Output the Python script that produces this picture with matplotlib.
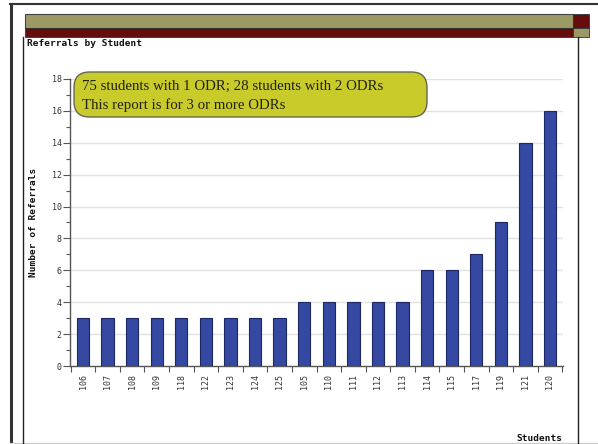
import matplotlib
matplotlib.use("Agg")
import matplotlib.pyplot as plt
from matplotlib.patches import Rectangle, FancyBboxPatch
from matplotlib.lines import Line2D

students = ["106", "107", "108", "109", "118", "122", "123", "124", "125", "105",
            "110", "111", "112", "113", "114", "115", "117", "119", "121", "120"]
referrals = [3, 3, 3, 3, 3, 3, 3, 3, 3, 4, 4, 4, 4, 4, 6, 6, 7, 9, 14, 16]
y_ticks = [0, 2, 4, 6, 8, 10, 12, 14, 16, 18]

W, H = 598, 444
fig = plt.figure(figsize=(W / 100, H / 100), dpi=100)
fig.patch.set_facecolor("white")


def fx(x):
    return x / W


def fy(y):
    return 1 - y / H


def rect(x0, y0, x1, y1, fc, ec="none", lw=0, z=1):
    fig.patches.append(Rectangle((fx(x0), fy(y1)), fx(x1) - fx(x0), fy(y0) - fy(y1),
                                 transform=fig.transFigure, facecolor=fc, edgecolor=ec,
                                 linewidth=lw, zorder=z))


def line(xs, ys, c, lw, z=3):
    fig.lines.append(Line2D([fx(x) for x in xs], [fy(y) for y in ys],
                            transform=fig.transFigure, color=c, linewidth=lw, zorder=z))


# outer frame
line([11, 11], [4, 444], "#333333", 2.2)
line([10, 598], [4, 4], "#333333", 1.5)
line([10, 598], [443, 443], "#cccccc", 1.0)
# header bars
olive = "#9b9a66"
maroon = "#650d0d"
rect(25, 14, 573, 28, olive, "#444444", 0.8)
rect(25, 28, 573, 37, maroon, "#333333", 0.6)
rect(573, 14, 589, 28, maroon, "#333333", 0.6)
rect(573, 28, 589, 37, olive, "#333333", 0.6)
# inner panel borders
line([23, 23], [37, 444], "#222222", 1.0)
line([578, 578], [37, 444], "#222222", 1.0)

fig.text(fx(27), fy(44), "Referrals by Student", fontfamily="DejaVu Sans Mono",
         fontweight="bold", fontsize=6.8, va="center", ha="left", color="#111111")

ax = fig.add_axes([fx(70), fy(366), fx(563) - fx(70), fy(79) - fy(366)])
x = list(range(len(students)))
ax.bar(x, referrals, width=0.5, color="#3548a2", edgecolor="#1c2766", linewidth=0.8, zorder=3)
ax.set_xlim(-0.53, len(students) - 0.47)
ax.set_ylim(0, 18)
ax.set_yticks(y_ticks)
ax.set_yticks([1, 3, 5, 7, 9, 11, 13, 15, 17], minor=True)
ax.set_yticklabels([str(v) for v in y_ticks], fontfamily="DejaVu Sans Mono", fontsize=6,
                   color="#333333")
ax.tick_params(axis="y", which="major", length=5, width=0.8, color="#555555", pad=1)
ax.tick_params(axis="y", which="minor", length=3, width=0.8, color="#555555")
ax.set_xticks([i - 0.5 for i in range(len(students) + 1)])
ax.set_xticklabels([])
ax.tick_params(axis="x", which="major", length=4, width=0.8, color="#555555")
ax.set_xticks(x, minor=True)
ax.set_xticklabels(students, minor=True, rotation=90, fontfamily="DejaVu Sans Mono",
                   fontsize=6, color="#333333")
ax.tick_params(axis="x", which="minor", length=0, pad=6)
for v in y_ticks[1:]:
    ax.axhline(v, color="#e2e2e2", linewidth=1.0, zorder=1)
for s in ["top", "right"]:
    ax.spines[s].set_visible(False)
for s in ["left", "bottom"]:
    ax.spines[s].set_color("#555555")
    ax.spines[s].set_linewidth(1.0)

fig.text(fx(33), (fy(79) + fy(366)) / 2, "Number of Referrals", rotation=90,
         fontfamily="DejaVu Sans Mono", fontweight="bold", fontsize=6.8,
         va="center", ha="center", color="#111111")
fig.text(fx(562), fy(438), "Students", fontfamily="DejaVu Sans Mono", fontweight="bold",
         fontsize=6.8, va="center", ha="right", color="#111111")

# annotation box
bx0, by0, bx1, by1 = 74, 72, 427, 117
fig.patches.append(FancyBboxPatch((fx(bx0), fy(by1)), fx(bx1) - fx(bx0), fy(by0) - fy(by1),
                                  boxstyle="round,pad=0,rounding_size=0.026",
                                  transform=fig.transFigure, facecolor="#c9cb2a",
                                  edgecolor="#666655", linewidth=1.0, zorder=5,
                                  mutation_aspect=W / H))
fig.text(fx(82), fy(86), "75 students with 1 ODR; 28 students with 2 ODRs",
         fontfamily="Liberation Serif", fontsize=10.7, va="center", ha="left",
         color="#222211", zorder=6)
fig.text(fx(82), fy(105), "This report is for 3 or more ODRs",
         fontfamily="Liberation Serif", fontsize=10.7, va="center", ha="left",
         color="#222211", zorder=6)

fig.savefig("out.png", dpi=100)
